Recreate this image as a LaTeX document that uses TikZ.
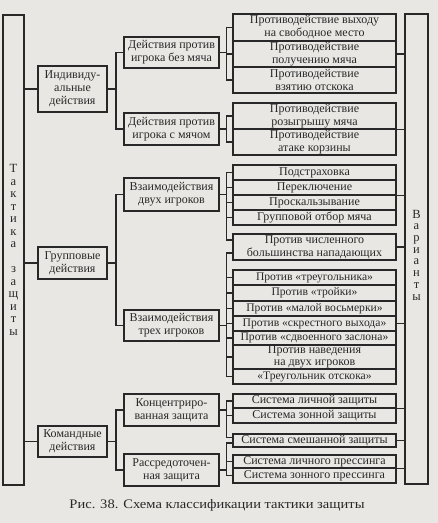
\documentclass[tikz,border=0pt]{standalone}
\usepackage{fontspec}
\setmainfont{Liberation Serif}
\newfontfamily\capfont{Liberation Serif}[FakeStretch=1.12]
\definecolor{paper}{RGB}{232,231,228}
\definecolor{ink}{RGB}{40,40,40}
\newcommand\fs{\fontsize{12}{13}\selectfont}
\newcommand\fsm{\fontsize{11.6}{13}\selectfont}
\newcommand\bx[6]{%
  \node[box, minimum width={#4-#2}, minimum height={#5-#3}] (#1) at ({(#2+#4)/2},{(#3+#5)/2}) {#6};}
\tikzset{
  box/.style={draw=ink, line width=1.1pt, inner sep=0pt, inner xsep=1pt, align=center, font=\fs, text=ink},
  conn/.style={draw=ink, line width=1.1pt},
}
\begin{document}
\begin{tikzpicture}[x=1pt,y=-1pt]
\fill[paper] (0,0) rectangle (438,523);
\useasboundingbox (0,0) rectangle (438,523);
% outer vertical boxes
\bx{L}{3}{15}{24}{485}{}
\node[font=\fontsize{12.5}{12.5}\selectfont, text=ink, align=center, inner sep=0pt] (Lt) at (13.5,250)
 {Т\\а\\к\\т\\и\\к\\а\\\mbox{}\\з\\а\\щ\\и\\т\\ы};
\bx{V}{405}{14}{428}{484}{}
\node[font=\fontsize{12.5}{11.7}\selectfont, text=ink, align=center, inner sep=0pt] (Vt) at (416.5,255)
 {В\\а\\р\\и\\а\\н\\т\\ы};
% level 1
\bx{I1}{38}{66}{107}{112}{Индивиду-\\альные\\действия}
\bx{I2}{38}{247}{107}{279}{Групповые\\действия}
\bx{I3}{38}{426}{107}{457}{Командные\\действия}
% level 2
\bx{D1}{124}{37}{219}{68}{Действия против\\игрока без мяча}
\bx{D2}{124}{113}{219}{145}{Действия против\\игрока с мячом}
\bx{D3}{124}{178}{219}{211}{Взаимодействия\\двух игроков}
\bx{D4}{124}{310}{219}{341}{Взаимодействия\\трех игроков}
\bx{D5}{124}{394}{219}{426}{Концентриро-\\ванная защита}
\bx{D6}{124}{454}{219}{486}{Рассредоточен-\\ная защита}
% level 3
\bx{G1a}{233}{14}{396}{41}{Противодействие выходу\\на свободное место}
\bx{G1b}{233}{41}{396}{67}{Противодействие\\получению мяча}
\bx{G1c}{233}{67}{396}{93}{Противодействие\\взятию отскока}
\bx{G2a}{233}{103}{396}{129}{Противодействие\\розыгрышу мяча}
\bx{G2b}{233}{129}{396}{155}{Противодействие\\атаке корзины}
\bx{G3a}{233}{165}{396}{180}{Подстраховка}
\bx{G3b}{233}{180}{396}{195}{Переключение}
\bx{G3c}{233}{195}{396}{210}{Проскальзывание}
\bx{G3d}{233}{210}{396}{225}{Групповой отбор мяча}
\bx{G4}{233}{234}{396}{260}{Против численного\\большинства нападающих}
\bx{G5a}{233}{270}{396}{285}{\fsm Против «треугольника»}
\bx{G5b}{233}{285}{396}{301}{\fsm Против «тройки»}
\bx{G5c}{233}{301}{396}{316}{\fsm Против «малой восьмерки»}
\bx{G5d}{233}{316}{396}{331}{\fsm Против «скрестного выхода»}
\bx{G5e}{233}{331}{396}{345}{\fsm Против «сдвоенного заслона»}
\node[box, minimum width=163, minimum height=24, font=\fontsize{12}{12}\selectfont] (G5f) at (314.5,357) {Против наведения\\на двух игроков};
\bx{G5g}{233}{369}{396}{384}{\fsm «Треугольник отскока»}
\bx{G6a}{233}{394}{396}{408}{Система личной защиты}
\bx{G6b}{233}{408}{396}{423}{Система зонной защиты}
\bx{G7}{233}{434}{396}{447}{Система смешанной защиты}
\bx{G8a}{233}{455}{396}{468}{Система личного прессинга}
\bx{G8b}{233}{468}{396}{483}{Система зонного прессинга}
% bracket columns
\coordinate (xa) at (116,0);
\coordinate (xb) at (226.5,0);
\coordinate (g4t) at (233,240);
\coordinate (g4b) at (233,253);
\coordinate (g7t) at (233,437.5);
\coordinate (g7b) at (233,443);
% L -> level 1
\foreach \n in {I1,I2,I3} \draw[conn] (\n.west) -- (\n.west -| L.east);
% level 1 -> level 2
\draw[conn] (D1.west) -- (D1.west -| xa) -- (D2.west -| xa) -- (D2.west);
\draw[conn] (I1.east) -- (I1.east -| xa);
\draw[conn] (D3.west) -- (D3.west -| xa) -- (D4.west -| xa) -- (D4.west);
\draw[conn] (I2.east) -- (I2.east -| xa);
\draw[conn] (D5.west) -- (D5.west -| xa) -- (D6.west -| xa) -- (D6.west);
\draw[conn] (I3.east) -- (I3.east -| xa);
% level 2 -> level 3
\draw[conn] (G1a.west) -- (G1a.west -| xb) -- (G1c.west -| xb) -- (G1c.west);
\draw[conn] (G1b.west) -- (G1b.west -| xb);
\draw[conn] (D1.east) -- (D1.east -| xb);
\draw[conn] (G2a.west) -- (G2a.west -| xb) -- (G2b.west -| xb) -- (G2b.west);
\draw[conn] (D2.east) -- (D2.east -| xb);
\draw[conn] (G3a.west) -- (G3a.west -| xb) -- (g4t -| xb) -- (g4t);
\foreach \n in {G3b,G3c,G3d} \draw[conn] (\n.west) -- (\n.west -| xb);
\draw[conn] (D3.east) -- (D3.east -| xb);
\draw[conn] (g4b) -- (g4b -| xb) -- (G5g.west -| xb) -- (G5g.west);
\foreach \n in {G5a,G5b,G5c,G5d,G5e,G5f} \draw[conn] (\n.west) -- (\n.west -| xb);
\draw[conn] (D4.east) -- (D4.east -| xb);
\draw[conn] (G6a.west) -- (G6a.west -| xb) -- (g7t -| xb) -- (g7t);
\draw[conn] (G6b.west) -- (G6b.west -| xb);
\draw[conn] (D5.east) -- (D5.east -| xb);
\draw[conn] (g7b) -- (g7b -| xb) -- (G8b.west -| xb) -- (G8b.west);
\draw[conn] (G8a.west) -- (G8a.west -| xb);
\draw[conn] (D6.east) -- (D6.east -| xb);
% level 3 -> Варианты
\draw[conn] (G1b.east) -- (G1b.east -| V.west);
\draw[conn] (G2a.south east) -- (G2a.south east -| V.west);
\draw[conn] (G3b.south east) -- (G3b.south east -| V.west);
\draw[conn] (G4.east) -- (G4.east -| V.west);
\draw[conn] (G5d.east) -- (G5d.east -| V.west);
\draw[conn] (G6a.south east) -- (G6a.south east -| V.west);
\draw[conn] (G7.east) -- (G7.east -| V.west);
\draw[conn] (G8a.south east) -- (G8a.south east -| V.west);
% caption
\node[font=\capfont\fontsize{13}{15}\selectfont, text=ink, inner sep=0pt] (cap) at (217,505) {Рис. 38. Схема классификации тактики защиты};
\end{tikzpicture}
\end{document}
